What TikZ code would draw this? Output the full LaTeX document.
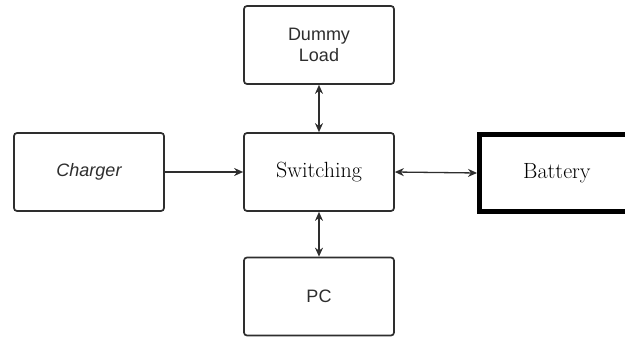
\documentclass[tikz,border=0pt]{standalone}
\usepackage{fontspec}
\usepackage{tikz}
\usetikzlibrary{arrows.meta,positioning}
\newfontfamily\diasans{Liberation Sans}
\definecolor{boxgray}{HTML}{2E2E2E}

\tikzset{
    block/.style={draw=boxgray,line width=1.7pt,rounded corners=3pt,
        minimum width=150pt,minimum height=78pt,inner sep=0pt,
        align=center,font=\diasans\fontsize{18}{21}\selectfont,text=boxgray},
    serifblock/.style={block,font=\fontsize{22}{25}\selectfont,text=black},
    link/.style={line width=1.3pt,draw=boxgray,-{Stealth[length=9pt,width=8pt]}},
    twolink/.style={link,{Stealth[length=9pt,width=8pt]}-{Stealth[length=9pt,width=8pt]}}
}

\begin{document}
\begin{tikzpicture}[x=1pt,y=-1pt]
    \clip (0,0) rectangle (625,337);
    \fill[white] (0,0) rectangle (625,337);
    \node[serifblock] (switching) at (319,172) {Switching};
    \node[block] (dummy) at (319,45) {Dummy\\Load};
    \node[block] (charger) at (89,172) {\itshape Charger};
    \node[block] (pc) at (319,296.5) {PC};
    \node[draw=black,line width=5pt,minimum width=161pt,minimum height=77pt,
        inner sep=0pt] (battery) at (560,173) {};
    \node[font=\fontsize{22}{25}\selectfont,anchor=west,inner sep=0pt] (batterytext) at (523,173) {Battery};
    \draw[link] (charger) -- (switching);
    \draw[twolink] (switching.east) -- (battery.west);
    \draw[twolink] (dummy) -- (switching);
    \draw[twolink] (switching) -- (pc);
\end{tikzpicture}
\end{document}
